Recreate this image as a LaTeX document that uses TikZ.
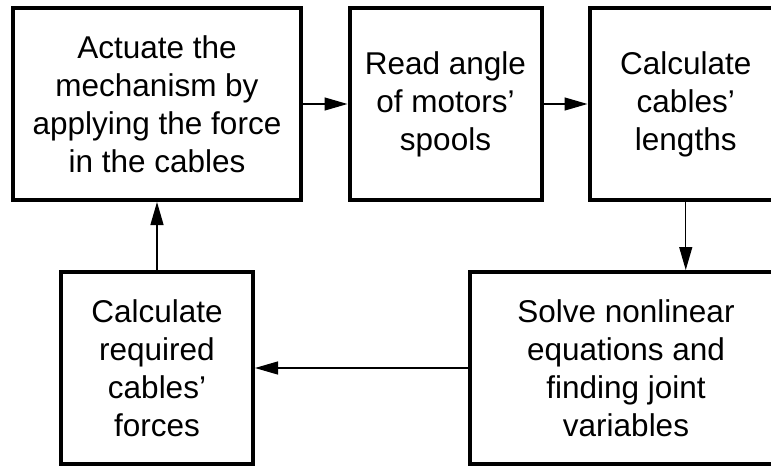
\documentclass[tikz,border=0pt]{standalone}
\usepackage{fontspec}
\setmainfont{Liberation Sans}
\usetikzlibrary{arrows.meta}
\begin{document}
\begin{tikzpicture}[x=1pt,y=-1pt,
  box/.style={draw=black,line width=4pt,fill=white,align=center,inner sep=0pt,
    minimum height=192pt,font=\fontsize{31.5}{38}\selectfont},
  conn/.style={line width=1.3pt,-{Triangle[length=23pt,width=13pt]}}]
\useasboundingbox (0,0) rectangle (771,466);
\begin{scope}
\clip (0,0) rectangle (771,466);
\node[box,minimum width=288pt] (act) at (157,104) {Actuate the\\mechanism by\\applying the force\\in the cables};
\node[box,minimum width=192pt] (read) at (445.5,104) {Read angle\\of motors’\\spools};
\node[box,minimum width=192.5pt] (len) at (685.75,104) {Calculate\\cables’\\lengths};
\node[box,minimum width=313pt] (solve) at (626,368) {Solve nonlinear\\equations and\\finding joint\\variables};
\node[box,minimum width=192pt] (force) at (157,368) {Calculate\\required\\cables’\\forces};
\draw[conn] (act.east) -- (read.west);
\draw[conn] (read.east) -- (len.west);
\draw[conn] (len.south) -- (solve.north -| len.south);
\draw[conn] (solve.west) -- (force.east);
\draw[conn] (force.north) -- (act.south);
\end{scope}
\end{tikzpicture}
\end{document}
